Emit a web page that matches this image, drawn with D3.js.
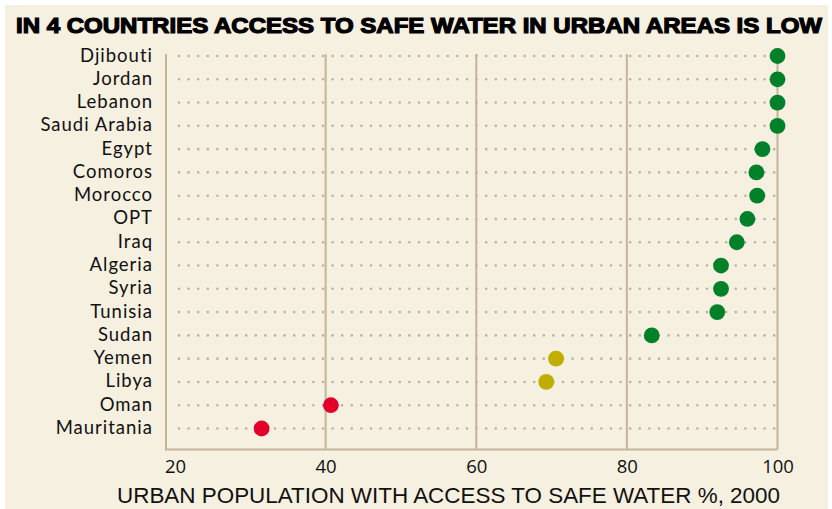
<!DOCTYPE html>
<html>
<head>
<meta charset="utf-8">
<script src="https://cdn.jsdelivr.net/npm/d3@7"></script>
<style>
  body { margin: 0; background: #fff; }
  svg { display: block; }
</style>
</head>
<body>
<svg id="chart" width="832" height="509"></svg>
<script>
// countries, top to bottom
var countries = ["Djibouti", "Jordan", "Lebanon", "Saudi Arabia", "Egypt", "Comoros", "Morocco",
  "OPT", "Iraq", "Algeria", "Syria", "Tunisia", "Sudan", "Yemen", "Libya", "Oman", "Mauritania"];
// urban population with access to safe water, %, 2000
var access = [100, 100, 100, 100, 98, 97.2, 97.3, 96, 94.6, 92.5, 92.5, 92, 83.3, 70.6, 69.3, 40.7, 31.5];
var xTicks = [20, 40, 60, 80, 100];

var width = 832, height = 509;
var svg = d3.select("#chart");

svg.append("rect")
  .attr("x", 5).attr("y", 5)
  .attr("width", width - 9).attr("height", height - 5)
  .attr("fill", "#f6f0e0");

var x = d3.scaleLinear().domain([20, 100]).range([175, 777.5]);
var y = d3.scalePoint().domain(countries).range([56, 428.5]);

var frameLeft = 166, frameTop = 54, frameBottom = 449.5;

function colour(v) {
  if (v >= 80) return "#008029";
  if (v >= 60) return "#bfae00";
  return "#e2002b";
}

// dotted row guides
svg.append("g")
  .selectAll("line")
  .data(countries)
  .join("line")
  .attr("x1", 179)
  .attr("x2", 775)
  .attr("y1", function (d) { return y(d); })
  .attr("y2", function (d) { return y(d); })
  .attr("stroke", "#bcb0a2")
  .attr("stroke-width", 2.6)
  .attr("stroke-linecap", "round")
  .attr("stroke-dasharray", "0 9.6");

// vertical gridlines
svg.append("g")
  .selectAll("line")
  .data(xTicks.slice(1))
  .join("line")
  .attr("x1", function (d) { return x(d); })
  .attr("x2", function (d) { return x(d); })
  .attr("y1", frameTop)
  .attr("y2", frameBottom)
  .attr("stroke", "#c4b49c")
  .attr("stroke-width", 2);

// frame: left and bottom
svg.append("path")
  .attr("d", "M" + frameLeft + "," + frameTop + "V" + frameBottom + "H" + x(100))
  .attr("fill", "none")
  .attr("stroke", "#c4b49c")
  .attr("stroke-width", 2);

// x axis labels
var xAxis = d3.axisBottom(x).tickValues(xTicks).tickSize(0).tickPadding(0);
svg.append("g")
  .attr("transform", "translate(0," + frameBottom + ")")
  .call(xAxis)
  .call(function (g) { g.select(".domain").remove(); })
  .call(function (g) {
    g.selectAll("text")
      .attr("dy", null)
      .attr("y", 23)
      .attr("fill", "#111")
      .attr("font-family", "'Open Sans', sans-serif")
      .attr("font-size", "18.5px");
  });

// country labels
var yAxis = d3.axisLeft(y).tickSize(0).tickPadding(0);
svg.append("g")
  .attr("transform", "translate(153,0)")
  .call(yAxis)
  .call(function (g) { g.select(".domain").remove(); })
  .call(function (g) {
    g.selectAll("text")
      .attr("dy", "0.27em")
      .attr("fill", "#111")
      .attr("font-family", "Lato, sans-serif")
      .attr("font-size", "18.5px")
      .attr("letter-spacing", "1px");
  });

// data points
svg.append("g")
  .selectAll("circle")
  .data(countries)
  .join("circle")
  .attr("cx", function (d, i) { return x(access[i]); })
  .attr("cy", function (d) { return y(d); })
  .attr("r", 7.9)
  .attr("fill", function (d, i) { return colour(access[i]); });

// title
svg.append("text")
  .attr("x", 16)
  .attr("y", 33)
  .attr("textLength", 806)
  .attr("lengthAdjust", "spacingAndGlyphs")
  .attr("font-family", "'Liberation Sans', Arial, sans-serif")
  .attr("font-weight", "bold")
  .attr("font-size", "21.5px")
  .attr("fill", "#000")
  .attr("stroke", "#000")
  .attr("stroke-width", 1.2)
  .text("IN 4 COUNTRIES ACCESS TO SAFE WATER IN URBAN AREAS IS LOW");

// axis title
svg.append("text")
  .attr("x", 117)
  .attr("y", 503)
  .attr("textLength", 663)
  .attr("lengthAdjust", "spacingAndGlyphs")
  .attr("font-family", "'Liberation Sans', Arial, sans-serif")
  .attr("font-size", "21.5px")
  .attr("fill", "#111")
  .text("URBAN POPULATION WITH ACCESS TO SAFE WATER %, 2000");
</script>
</body>
</html>
